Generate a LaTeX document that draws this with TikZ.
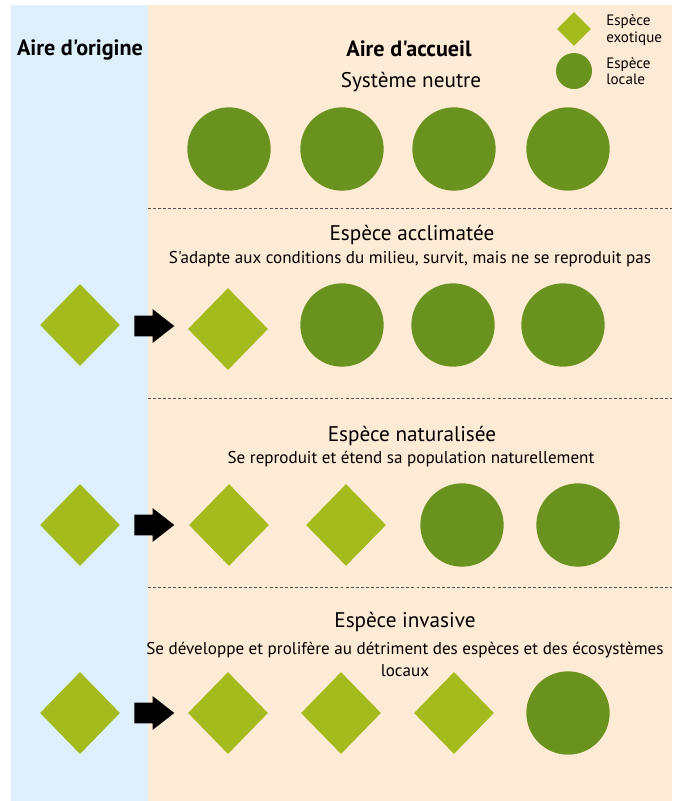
\documentclass[tikz,border=0pt]{standalone}
\usepackage{fontspec}
\setmainfont{PT Sans}[Ligatures=TeXOff]
\usetikzlibrary{shapes.geometric,shapes.arrows}
\definecolor{bluebg}{HTML}{DEF0FB}
\definecolor{peachbg}{HTML}{FEEBD5}
\definecolor{exocol}{HTML}{A3BB1C}
\definecolor{loccol}{HTML}{6A921F}
\definecolor{sepcol}{HTML}{555555}
\begin{document}
\begin{tikzpicture}[x=0.75pt,y=-0.75pt,
  exo/.style={diamond, fill=exocol, inner sep=0pt, minimum width=60pt, minimum height=61.5pt},
  loc/.style={circle, fill=loccol, inner sep=0pt, minimum size=62.5pt},
  exosmall/.style={diamond, fill=exocol, inner sep=0pt, minimum width=25.5pt, minimum height=25.5pt},
  locsmall/.style={circle, fill=loccol, inner sep=0pt, minimum size=27pt},
  blockarrow/.style={single arrow, fill=black, inner xsep=0pt, inner ysep=7.5pt, minimum height=30pt, single arrow head extend=5pt, single arrow tip angle=76, anchor=tail},
  sepline/.style={draw=sepcol, line width=0.6pt, dash pattern=on 2.2pt off 1.6pt},
  header/.style={font=\fontsize{16.6}{19}\selectfont\bfseries, inner sep=0pt},
  title/.style={font=\fontsize{15.9}{19}\selectfont, inner sep=0pt},
  subtitle/.style={font=\fontsize{12.8}{16.5}\selectfont, inner sep=0pt, align=center},
  legend/.style={font=\fontsize{11.3}{12.2}\selectfont, inner sep=0pt, align=left, anchor=west}]
\useasboundingbox (0,0) rectangle (675,801);
% backgrounds
\fill[bluebg] (11,5) rectangle (148,801);
\fill[peachbg] (148,5) rectangle (672,801);
% headers
\node[header] (hOrig) at (80,50) {Aire d'origine};
\node[header] (hAcc) at (409,49) {Aire d'accueil};
% legend
\node[exosmall] (legExo) at (574,29) {};
\node[locsmall] (legLoc) at (574,71) {};
\node[legend] (legExoT) at (606,30) {Espèce\\exotique};
\node[legend] (legLocT) at (606,71) {Espèce\\locale};
% row 1
\node[title] (t1) at (411,82) {Système neutre};
\node[loc] (r1c1) at (229,149) {};
\node[loc] (r1c2) at (342,149) {};
\node[loc] (r1c3) at (454,149) {};
\node[loc] (r1c4) at (568,149) {};
\coordinate (s1a) at (148,208); \coordinate (s1b) at (672,208);
\draw[sepline] (s1a) -- (s1b);
% row 2
\node[title] (t2) at (412,235) {Espèce acclimatée};
\node[subtitle] (st2) at (410,259) {S'adapte aux conditions du milieu, survit, mais ne se reproduit pas};
\node[exo] (r2o) at (80,325) {};
\node[blockarrow] (r2a) at (134,326) {};
\node[exo] (r2e1) at (228,329) {};
\node[loc] (r2c1) at (342,325) {};
\node[loc] (r2c2) at (453,325) {};
\node[loc] (r2c3) at (563,325) {};
\coordinate (s2a) at (148,398); \coordinate (s2b) at (672,398);
\draw[sepline] (s2a) -- (s2b);
% row 3
\node[title] (t3) at (412,436) {Espèce naturalisée};
\node[subtitle] (st3) at (411,459) {Se reproduit et étend sa population naturellement};
\node[exo] (r3o) at (80,525) {};
\node[blockarrow] (r3a) at (134,525) {};
\node[exo] (r3e1) at (229,525) {};
\node[exo] (r3e2) at (346,525) {};
\node[loc] (r3c1) at (462,525) {};
\node[loc] (r3c2) at (578,525) {};
\coordinate (s3a) at (148,587); \coordinate (s3b) at (672,587);
\draw[sepline] (s3a) -- (s3b);
% row 4
\node[title] (t4) at (405,622) {Espèce invasive};
\node[subtitle] (st4) at (405,659) {Se développe et prolifère au détriment des espèces et des écosystèmes\\locaux};
\node[exo] (r4o) at (80,713) {};
\node[blockarrow] (r4a) at (134,713) {};
\node[exo] (r4e1) at (228,713) {};
\node[exo] (r4e2) at (341,713) {};
\node[exo] (r4e3) at (454,713) {};
\node[loc] (r4c1) at (568,713) {};
\end{tikzpicture}
\end{document}
